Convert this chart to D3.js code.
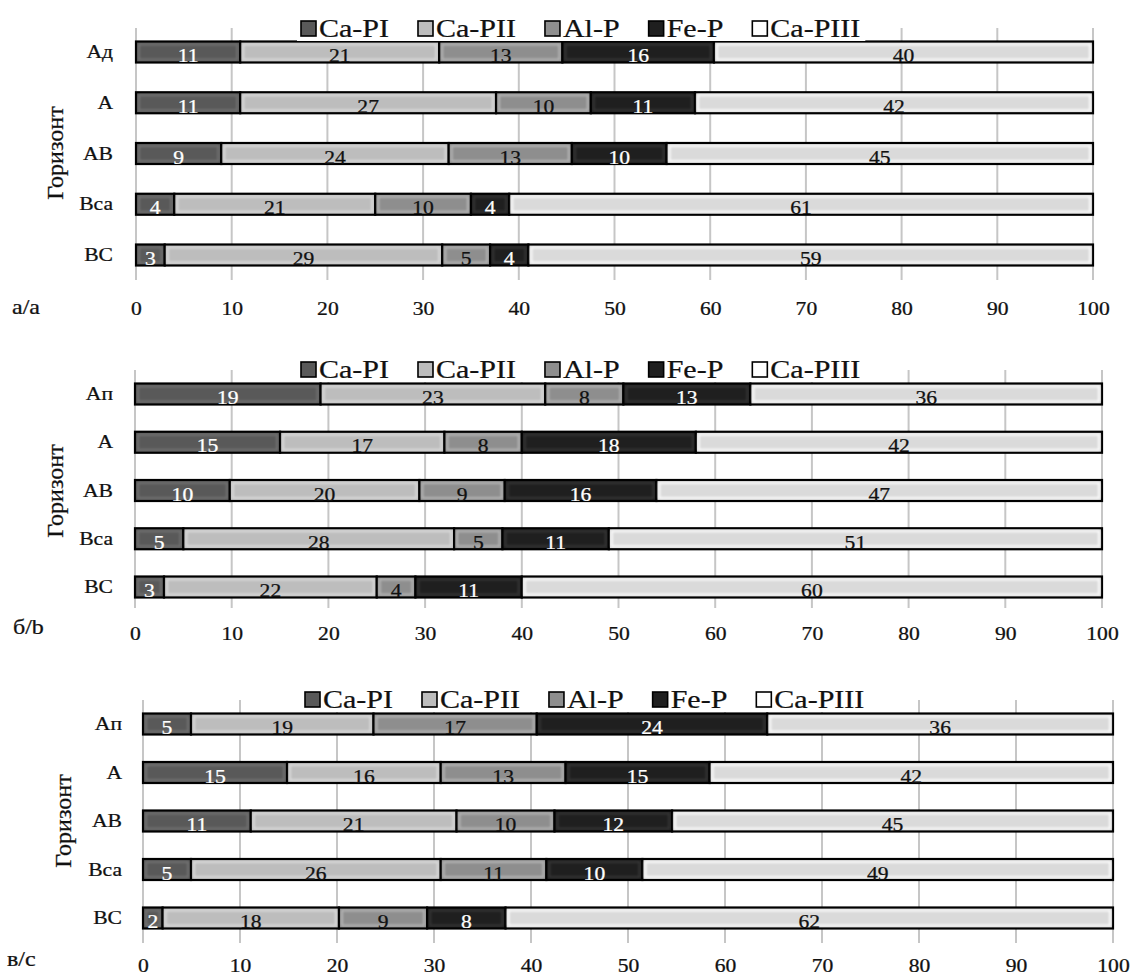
<!DOCTYPE html>
<html><head><meta charset="utf-8">
<script src="https://cdn.jsdelivr.net/npm/d3@7"></script>
<style>
body{margin:0;background:#fff}
svg{display:block}
text{font-family:"Liberation Serif","Times New Roman",serif}
</style>
</head><body>
<svg id="chart" width="1132" height="978"></svg>
<script>
// ---------- DATA ----------
const series = ["Ca-PI", "Ca-PII", "Al-P", "Fe-P", "Ca-PIII"];
const tickValues = [0, 10, 20, 30, 40, 50, 60, 70, 80, 90, 100];
const panelLabels = ["а/a", "б/b", "в/с"];
const axisTitle = "Горизонт";

const catsA = ["Ад", "А", "АВ", "Вса", "ВС"];
const catsB = ["Ап", "А", "АВ", "Вса", "ВС"];
const catsC = ["Ап", "А", "АВ", "Вса", "ВС"];

// panel a
const aCaPI   = [11, 11, 9, 4, 3];
const aCaPII  = [21, 27, 24, 21, 29];
const aAlP    = [13, 10, 13, 10, 5];
const aFeP    = [16, 11, 10, 4, 4];
const aCaPIII = [40, 42, 45, 61, 59];
// panel b
const bCaPI   = [19, 15, 10, 5, 3];
const bCaPII  = [23, 17, 20, 28, 22];
const bAlP    = [8, 8, 9, 5, 4];
const bFeP    = [13, 18, 16, 11, 11];
const bCaPIII = [36, 42, 47, 51, 60];
// panel c
const cCaPI   = [5, 15, 11, 5, 2];
const cCaPII  = [19, 16, 21, 26, 18];
const cAlP    = [17, 13, 10, 11, 9];
const cFeP    = [24, 15, 12, 10, 8];
const cCaPIII = [36, 42, 45, 49, 62];

// ---------- STYLE ----------
const fills       = ["#595959", "#bdbdbd", "#8e8e8e", "#1f1f1f", "#dadada"];
const legendFills = ["#595959", "#bdbdbd", "#8e8e8e", "#1f1f1f", "#ffffff"];
const labelFills  = ["#ffffff", "#111111", "#111111", "#ffffff", "#111111"];
const glowOpacity = [0.15, 0.45, 0.35, 0.1, 0.9];
const SX = 1.2; // horizontal text stretch

const panels = [
  {cats: catsA, vals: [aCaPI, aCaPII, aAlP, aFeP, aCaPIII],
   x0: 136, x1: 1093, yFirst: 52, yLast: 255, gTop: 28, gBot: 280,
   legendY: 29, legendX: 301, tickY: 315, label: panelLabels[0], labelX: 12, labelY: 314,
   catRight: 113, titleX: 55, titleY: 153},
  {cats: catsB, vals: [bCaPI, bCaPII, bAlP, bFeP, bCaPIII],
   x0: 135, x1: 1102, yFirst: 394, yLast: 587, gTop: 370, gBot: 608,
   legendY: 370, legendX: 301, tickY: 640, label: panelLabels[1], labelX: 13, labelY: 634,
   catRight: 113, titleX: 55, titleY: 491},
  {cats: catsC, vals: [cCaPI, cCaPII, cAlP, cFeP, cCaPIII],
   x0: 143, x1: 1113, yFirst: 724, yLast: 918, gTop: 700, gBot: 943,
   legendY: 700, legendX: 305, tickY: 972, label: panelLabels[2], labelX: 7, labelY: 966,
   catRight: 122, titleX: 63, titleY: 821}
];

const svg = d3.select("#chart");
const defs = svg.append("defs");
defs.append("filter").attr("id", "soft").append("feGaussianBlur").attr("stdDeviation", 1);

function stretchedText(g, x, y, str, size, anchor) {
  return g.append("text")
    .attr("transform", `translate(${x},${y}) scale(${SX},1)`)
    .attr("text-anchor", anchor || "start")
    .attr("font-size", size)
    .attr("fill", "#111")
    .attr("stroke", "#111").attr("stroke-width", 0.25)
    .text(str);
}

panels.forEach(p => {
  const g = svg.append("g");
  const rows = p.cats.map((c, i) => {
    const o = {cat: c};
    series.forEach((s, k) => o[s] = p.vals[k][i]);
    return o;
  });
  const stack = d3.stack().keys(series).offset(d3.stackOffsetExpand)(rows);

  const x = d3.scaleLinear().domain([0, 100]).range([p.x0, p.x1]);
  const y = d3.scalePoint().domain(p.cats).range([p.yFirst, p.yLast]);
  const barH = 21;

  // gridlines
  g.append("g").selectAll("line").data(tickValues).join("line")
    .attr("x1", d => x(d)).attr("x2", d => x(d))
    .attr("y1", p.gTop).attr("y2", p.gBot)
    .attr("stroke", "#c6c6c6").attr("stroke-width", 2);

  // bars
  stack.forEach((layer, k) => {
    const lg = g.append("g");
    layer.forEach((d, i) => {
      const xa = x(d[0] * 100), xb = x(d[1] * 100);
      const yc = y(p.cats[i]);
      lg.append("rect")
        .attr("x", xa).attr("y", yc - barH / 2)
        .attr("width", xb - xa).attr("height", barH)
        .attr("fill", fills[k]).attr("stroke", "#000").attr("stroke-width", 2.2);
      if (xb - xa > 8) {
        lg.append("rect")
          .attr("x", xa + 3).attr("y", yc - barH / 2 + 3)
          .attr("width", xb - xa - 6).attr("height", barH - 6)
          .attr("fill", "none").attr("stroke", "#ffffff").attr("stroke-opacity", glowOpacity[k])
          .attr("stroke-width", 2).attr("filter", "url(#soft)");
      }
      stretchedText(lg, (xa + xb) / 2, yc + 10, String(p.vals[k][i]), 18, "middle")
        .attr("fill", labelFills[k]).attr("stroke", labelFills[k]);
    });
  });

  // category labels
  p.cats.forEach(c => {
    stretchedText(g, p.catRight, y(c) + 6, c, 18, "end");
  });

  // x axis tick labels
  const ax = g.append("g").attr("transform", `translate(0,${p.tickY - 14})`)
    .call(d3.axisBottom(x).tickValues(tickValues).tickSize(0).tickPadding(0).tickFormat(d3.format("d")));
  ax.select(".domain").remove();
  ax.selectAll("text")
    .attr("font-size", 18).attr("fill", "#111")
    .attr("stroke", "#111").attr("stroke-width", 0.25)
    .attr("dy", 0).attr("y", 14)
    .attr("transform", `scale(${SX},1)`);

  // y axis title
  g.append("text")
    .attr("transform", `translate(${p.titleX + 8},${p.titleY}) rotate(-90)`)
    .attr("text-anchor", "middle").attr("font-size", 24).attr("fill", "#111")
    .attr("stroke", "#111").attr("stroke-width", 0.25)
    .text(axisTitle);

  // panel label
  stretchedText(g, p.labelX, p.labelY, p.label, 20, "start");

  // legend
  const leg = g.append("g");
  const bg = leg.append("rect").attr("fill", "#fff");
  let lx = p.legendX;
  series.forEach((s, k) => {
    leg.append("rect")
      .attr("x", lx).attr("y", p.legendY - 8).attr("width", 15).attr("height", 15)
      .attr("fill", legendFills[k]).attr("stroke", "#000").attr("stroke-width", 1.6);
    const t = stretchedText(leg, lx + 18, p.legendY + 8, s, 25, "start");
    const w = t.node().getComputedTextLength() * SX;
    lx += 18 + w + 29;
  });
  bg.attr("x", p.legendX - 4).attr("y", p.legendY - 12).attr("width", lx - p.legendX - 20).attr("height", 24);
});
</script>
</body></html>
